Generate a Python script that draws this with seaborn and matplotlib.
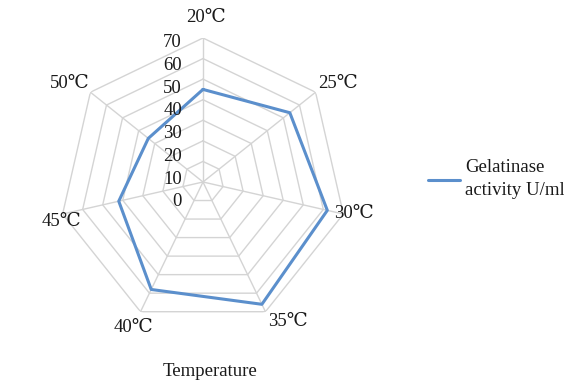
import numpy as np
import pandas as pd
import matplotlib
matplotlib.use("Agg")
import matplotlib.pyplot as plt
import seaborn as sns

categories = ["20℃", "25℃", "30℃", "35℃", "40℃", "45℃", "50℃"]
activity = [45, 54, 62, 66, 58, 42, 34]
r_ticks = [0, 10, 20, 30, 40, 50, 60, 70]
series_name = "Gelatinase\nactivity U/ml"
x_title = "Temperature"

sns.set_theme(style="white")
plt.rcParams["font.family"] = ["Liberation Serif", "DejaVu Serif", "DejaVu Sans"]

n = len(categories)
angles = np.arange(n) * 2 * np.pi / n
df = pd.DataFrame({"angle": np.append(angles, angles[0]),
                   "value": activity + [activity[0]],
                   "cat": categories + [categories[0]]})

fig = plt.figure(figsize=(5.64, 3.82), dpi=100)
ax = fig.add_axes([0.1046, 0.1466, 0.5106, 0.754], projection="polar")
ax.set_theta_offset(np.pi / 2)
ax.set_theta_direction(-1)
ax.set_ylim(0, 70)
ax.grid(False)
ax.spines["polar"].set_visible(False)
ax.set_xticks([])
ax.set_yticks([])
ax.set_facecolor("none")

grid_color = "#d4d4d4"
closed = np.append(angles, angles[0])
for r in r_ticks[1:]:
    ax.plot(closed, [r] * (n + 1), color=grid_color, lw=1.0, zorder=1)
for a in angles:
    ax.plot([a, a], [0, r_ticks[-1]], color=grid_color, lw=1.0, zorder=1)

sns.lineplot(data=df, x="angle", y="value", ax=ax, sort=False, estimator=None,
             color="#5b8fcc", lw=2.2, zorder=3, legend=False)
ax.set_xlabel("")
ax.set_ylabel("")

# radial tick labels (left of the top spoke)
for i, r in enumerate(r_ticks):
    y_px = 201.7 - i * 22.7
    fig.text(182 / 564, 1 - y_px / 382, str(r), ha="right", va="center",
             fontsize=13.5, color="#1a1a1a")

# category labels
label_pos = [(206, 18), (338, 83), (354, 213), (288, 322), (133, 328), (62, 222), (70, 83)]
for lab, (x, y) in zip(categories, label_pos):
    fig.text(x / 564, 1 - y / 382, lab, ha="center", va="center",
             fontsize=13.5, color="#1a1a1a")

# legend
fig.lines.append(plt.Line2D([428 / 564, 460 / 564], [1 - 180 / 382, 1 - 180 / 382],
                            transform=fig.transFigure, color="#5b8fcc", lw=2.2))
fig.text(465 / 564, 1 - 179 / 382, series_name, ha="left", va="center",
         fontsize=13.5, color="#1a1a1a", linespacing=1.5)

fig.text(210 / 564, 1 - 372 / 382, x_title, ha="center", va="center",
         fontsize=13.5, color="#1a1a1a")

fig.savefig("out.png", dpi=100)
